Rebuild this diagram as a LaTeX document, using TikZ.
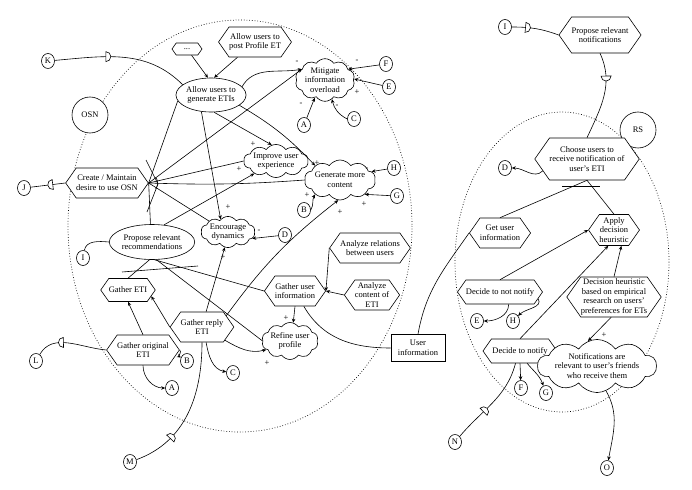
\documentclass[tikz,border=0pt]{standalone}
\usepackage{fontspec}
\setmainfont{Liberation Serif}
\usetikzlibrary{arrows.meta,positioning,shapes.geometric,shapes.symbols,decorations.markings}
\newcommand{\dfont}{\fontsize{8.5}{9.6}\selectfont}

\begin{document}
\begin{tikzpicture}[x=1pt, y=-1pt, line width=0.6pt,
      task/.style={draw, signal, signal to=east and west, signal pointer angle=110,
                   fill=white, align=center, inner xsep=0pt, inner ysep=1pt, font=\dfont},
      goal/.style={draw, ellipse, fill=white, align=center, inner sep=0pt, font=\dfont},
      soft/.style={draw, cloud, cloud puffs=10, cloud puff arc=110, cloud ignores aspect,
                   fill=white, align=center, inner sep=0pt, font=\dfont},
      ref/.style={draw, ellipse, fill=white, inner sep=0pt, minimum width=13pt,
                  minimum height=15pt, font=\dfont},
      actor/.style={draw, circle, fill=white, minimum size=36pt, inner sep=0pt, font=\dfont},
      res/.style={draw, rectangle, fill=white, align=center, inner sep=2pt, font=\dfont},
      sgn/.style={inner sep=0pt, font=\dfont},
      arr/.style={-{Stealth[length=4pt,width=3.5pt]}},
      bound/.style={dotted, line width=0.7pt},
      dep/.style={postaction={decorate, decoration={markings, mark=at position #1 with
                  {\draw[fill=white] (-3pt,-5pt) -- (-3pt,5pt) arc (90:-90:5pt) -- cycle;}}}},
      depr/.style={postaction={decorate, decoration={markings, mark=at position #1 with
                  {\draw[fill=white] (3pt,5pt) -- (3pt,-5pt) arc (-90:-270:5pt) -- cycle;}}}}
    ]
    \useasboundingbox (0,0) rectangle (692,489);
    % boundaries of the two actors
    \draw[bound] (240,226) ellipse (172 and 206);
    \draw[bound] (562,262) ellipse (107 and 150);
    \node[actor] (osn) at (90,115) {OSN};
    \node[actor] (rs) at (638,130) {RS};

    % OSN: goals, tasks and softgoals
    \node[task, minimum width=30pt, minimum height=12pt, inner ysep=0pt] (dots) at (187,49) {...};
    \node[task, minimum width=58pt, minimum height=30pt] (post) at (255,42) {Allow users to\\post Profile ET};
    \node[goal, minimum width=58pt, minimum height=34pt] (allow) at (211,95) {Allow users to\\generate ETIs};
    \node[soft, minimum width=48pt, minimum height=38pt] (mitig) at (325,80) {Mitigate\\information\\overload};
    \node[soft, minimum width=52pt, minimum height=32pt] (improve) at (276,161) {Improve user\\experience};
    \node[soft, minimum width=50pt, minimum height=40pt] (genmore) at (340,180) {Generate more\\content};
    \node[soft, minimum width=54pt, minimum height=31pt] (encour) at (228,232) {Encourage\\dynamics};
    \node[task, minimum width=78pt, minimum height=30pt] (create) at (107,183) {Create / Maintain\\desire to use OSN};
    \node[goal, minimum width=60pt, minimum height=35pt] (propose) at (152,242) {Propose relevant\\recommendations};
    \node[task, minimum width=47pt, minimum height=23pt] (gEti) at (128,290) {Gather ETI};
    \node[task, minimum width=50pt, minimum height=30pt] (gReply) at (202,327) {Gather reply\\ETI};
    \node[task, minimum width=65pt, minimum height=30pt] (gOrig) at (143,350) {Gather original\\ETI};
    \node[soft, minimum width=48pt, minimum height=37pt] (refine) at (290,341) {Refine user\\profile};
    \node[task, minimum width=52pt, minimum height=30pt] (gUser) at (295,291) {Gather user\\information};
    \node[task, minimum width=68pt, minimum height=30pt] (anRel) at (370,248) {Analyze relations\\between users};
    \node[task, minimum width=50pt, minimum height=30pt] (anCont) at (372,295) {Analyze\\content of\\ETI};
    \node[res, minimum width=54pt, minimum height=27pt] (userInfo) at (418,348) {User\\information};

    % OSN: references
    \node[ref] (refK) at (48,61) {K};
    \node[ref] (refJ) at (24,188) {J};
    \node[ref] (refI1) at (83,258) {I};
    \node[ref] (refL) at (36,361) {L};
    \node[ref] (refM) at (130,462) {M};
    \node[ref] (refF1) at (386,64) {F};
    \node[ref] (refE1) at (389,87) {E};
    \node[ref] (refA1) at (304,125) {A};
    \node[ref] (refC1) at (354,119) {C};
    \node[ref] (refH1) at (394,168) {H};
    \node[ref] (refG1) at (397,196) {G};
    \node[ref] (refB1) at (304,210) {B};
    \node[ref] (refD1) at (285,235) {D};
    \node[ref] (refB2) at (187,361) {B};
    \node[ref] (refA2) at (172,388) {A};
    \node[ref] (refC2) at (233,373) {C};

    % RS: tasks and softgoal
    \node[task, minimum width=70pt, minimum height=36pt] (propNot) at (600,35) {Propose relevant\\notifications};
    \node[task, minimum width=76pt, minimum height=42pt] (choose) at (587,159) {Choose users to\\receive notification of\\user's ETI};
    \node[task, minimum width=53pt, minimum height=30pt] (getUser) at (500,233) {Get user\\information};
    \node[task, minimum width=50pt, minimum height=31pt] (apply) at (614,230) {Apply\\decision\\heuristic};
    \node[task, minimum width=76pt, minimum height=24pt] (notNot) at (500,292) {Decide to not notify};
    \node[task, minimum width=80pt, minimum height=40pt] (heur) at (614,297) {Decision heuristic\\based on empirical\\research on users'\\preferences for ETs};
    \node[task, minimum width=74pt, minimum height=24pt] (doNot) at (520,351) {Decide to notify};
    \node[soft, minimum width=82pt, minimum height=52pt] (notif) at (597,366) {Notifications are\\relevant to user's friends\\who receive them};
    \node[ref] (refI2) at (505,27) {I};
    \node[ref] (refD2) at (505,168) {D};
    \node[ref] (refE2) at (477,321) {E};
    \node[ref] (refH2) at (513,321) {H};
    \node[ref] (refF2) at (521,388) {F};
    \node[ref] (refG2) at (546,393) {G};
    \node[ref] (refN) at (455,442) {N};
    \node[ref] (refO) at (607,468) {O};

    % OSN: links
    \draw[arr] (dots) -- (allow.100);
    \draw[arr] (post) -- (allow.80);
    \draw[dep=0.4] (refK) to[out=5, in=135] (allow.160);
    \draw[arr] (allow.15) to[out=60, in=190] (mitig.155);
    \draw[arr] (allow.280) -- (improve.105);
    \draw[arr] (allow.340) to[bend left=8] (genmore.150);
    \draw[arr] (allow.240) -- (encour.120);
    \draw (create.east) -- (allow.190);
    \draw (create.east) -- (propose.95);
    \draw (146,160) -- (158,184) -- (147,212);
    \draw (create.east) ++(-40:9pt) arc (-40:40:9pt);
    \draw[arr] (create.east) -- (mitig.155);
    \draw (create.east) -- (improve.west);
    \draw (create.east) to[bend right=3] (genmore.west);
    \draw (create.east) -- (encour.150);
    \draw[depr=0.55] (refJ) -- (create.west);
    \draw (refI1) to[out=80, in=175] (propose.west);
    \draw[arr] (propose.55) -- (improve.210);
    \draw (propose.262) -- (gEti.north);
    \draw (propose.278) -- (gUser.west);
    \draw (propose.284) -- (refine.west);
    \draw (122,272) -- (198,266);
    \draw[arr] (gOrig.north) -- (gEti.south);
    \draw[arr] (gReply.west) -- (gEti.345);
    \draw[arr] (gOrig.east) to[out=-40, in=150] (refB2);
    \draw[arr] (gOrig.south) to[out=-90, in=180] (refA2);
    \draw[depr=0.35] (refL) to[out=60, in=175] (gOrig.west);
    \draw[arr] (gReply.75) -- (encour.258);
    \draw[arr] (gReply.25) to[bend left=8] (genmore.265);
    \draw[arr] (gReply.330) to[out=-30, in=195] (refine.200);
    \draw[arr] (gReply.285) to[out=-80, in=170] (refC2);
    \draw[dep=0.3] (refM) to[out=20, in=-90] (gReply.south);
    \draw[arr] (gUser.south) -- (refine.80);
    \draw (gUser.300) to[out=-60, in=180] (userInfo.west);
    \draw[arr] (anRel.west) -- (gUser.east);
    \draw[arr] (anCont.west) -- (gUser.east);
    \draw[arr] (refD1) -- (encour.345);
    \draw[arr] (refB1.east) to[out=60, in=240] (genmore.210);
    \draw[arr] (refH1) -- (genmore.15);
    \draw[arr] (refG1) -- (genmore.330);
    \draw[arr] (refF1) -- (mitig.25);
    \draw[arr] (refE1) -- (mitig.2);
    \draw[arr] (refA1) -- (mitig.240);
    \draw[arr] (refC1.west) to[bend left=25] (mitig.290);

    % RS: links
    \draw[dep=0.35] (refI2) to[out=0, in=160] (propNot.west);
    \draw[dep=0.3] (propNot.south) to[out=-65, in=65] (choose.north);
    \draw[arr] (choose.195) to[out=225, in=0] (refD2);
    \draw (choose.south) -- (getUser.north);
    \draw (choose.south) -- (apply.north);
    \draw (562,186) -- (600,186);
    \draw (getUser.west) to[out=235, in=80] (userInfo.north);
    \draw[arr] (notNot.north) -- (apply.west);
    \draw[arr] (doNot.north) -- (apply.250);
    \draw[arr] (heur.north) -- (apply.295);
    \draw[arr] (heur.262) -- (notif.110);
    \draw[arr] (notNot.305) to[out=-90, in=0] (refE2);
    \draw[arr] (notNot.350) to[out=-60, in=45] (refH2);
    \draw[arr] (doNot.south) -- (refF2);
    \draw[arr] (doNot.300) to[out=-50, in=110] (refG2);
    \draw[dep=0.4] (refN) to[out=50, in=-105] (doNot.250);
    \draw[arr] (notif.290) to[out=-60, in=80] (refO);

    % contribution signs
    \foreach \x/\y/\s [count=\k] in {297/62/-, 357/61/-, 357/92/+, 301/104/-, 337/106/-,
        253/144/+, 239/169/+, 317/163/+, 307/195/+, 340/212/+, 364/204/+, 367/169/-,
        228/207/+, 259/231/-, 223/257/+, 286/318/+, 267/363/+, 604/335/+}
      \node[sgn] (sg\k) at (\x,\y) {\s};
  \end{tikzpicture}
\end{document}
